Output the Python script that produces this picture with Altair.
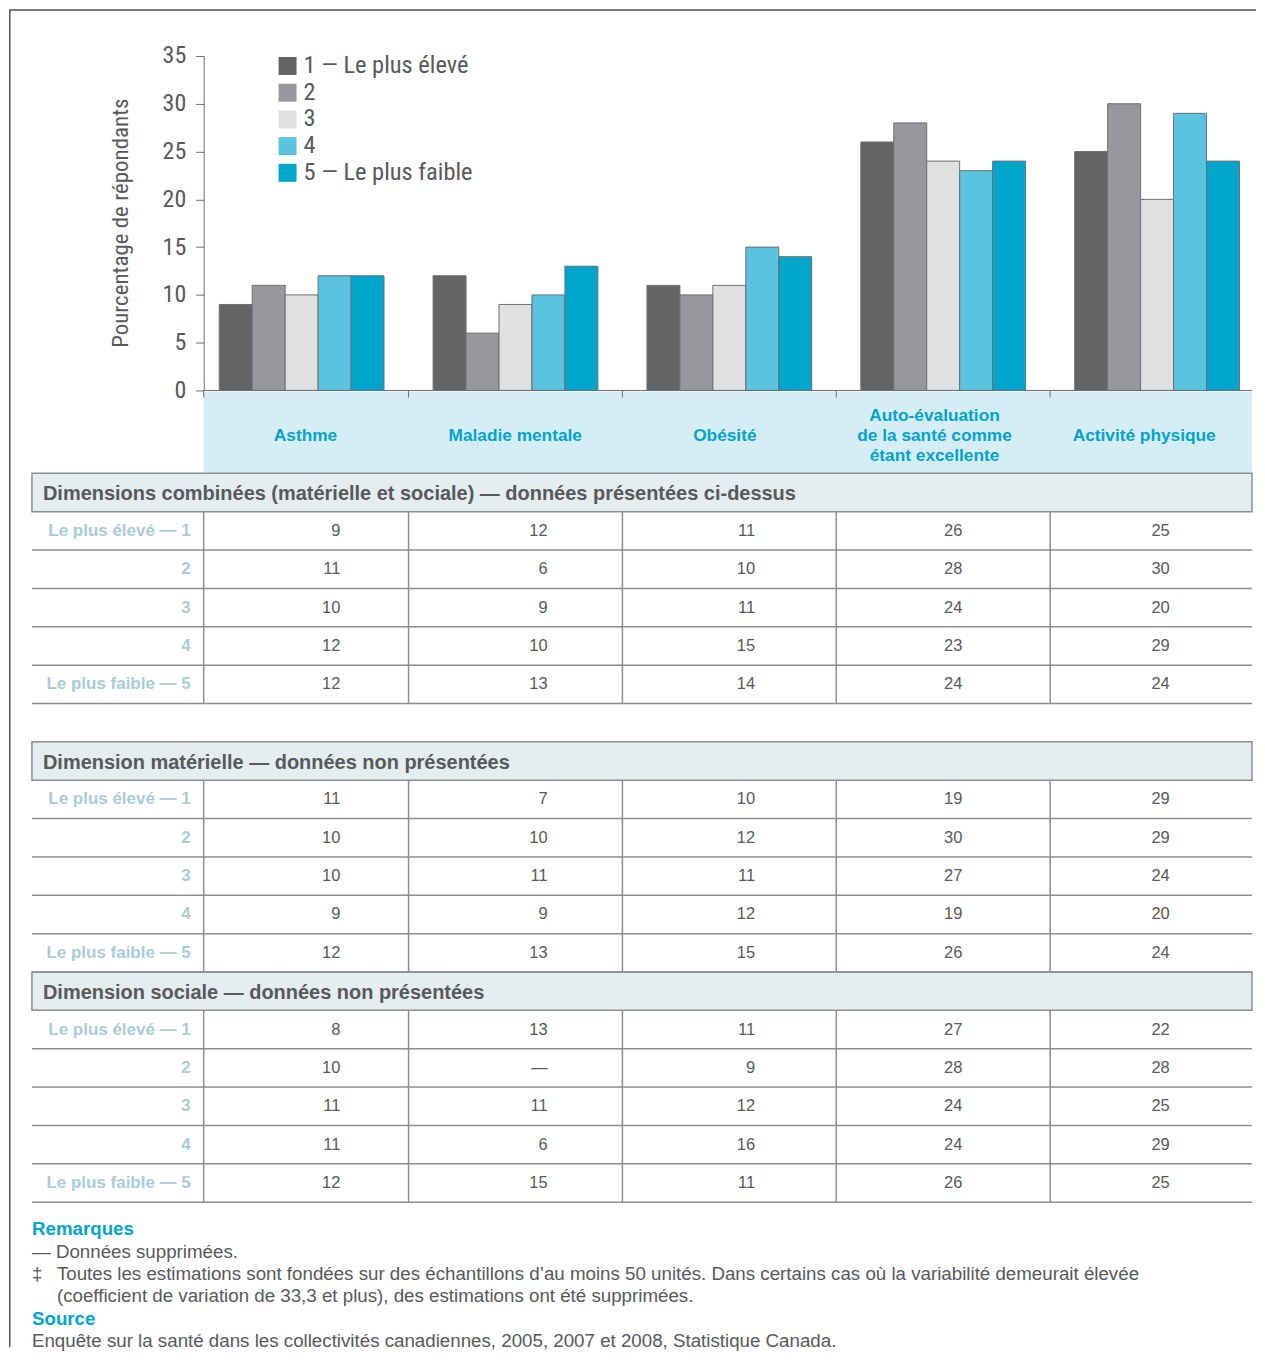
import altair as alt
import pandas as pd

# ---------------- data ----------------
CATEGORIES = ["Asthme", "Maladie mentale", "Obésité",
              "Auto-évaluation de la santé comme étant excellente", "Activité physique"]
CAT_LABELS = ["Asthme", "Maladie mentale", "Obésité",
              "Auto-évaluation\nde la santé comme\nétant excellente", "Activité physique"]
SERIES = ["1", "2", "3", "4", "5"]
LEGEND_LABELS = ["1 — Le plus élevé", "2", "3", "4", "5 — Le plus faible"]
ROW_LABELS = ["Le plus élevé — 1", "2", "3", "4", "Le plus faible — 5"]
COLORS = ["#636466", "#97989c", "#dfe0e2", "#5bc2df", "#00a5cc"]
Y_TICKS = [0, 5, 10, 15, 20, 25, 30, 35]

# rows = quintile 1..5, columns = CATEGORIES
COMBINED = [[9, 12, 11, 26, 25],
            [11, 6, 10, 28, 30],
            [10, 9, 11, 24, 20],
            [12, 10, 15, 23, 29],
            [12, 13, 14, 24, 24]]
MATERIAL = [[11, 7, 10, 19, 29],
            [10, 10, 12, 30, 29],
            [10, 11, 11, 27, 24],
            [9, 9, 12, 19, 20],
            [12, 13, 15, 26, 24]]
SOCIAL = [[8, 13, 11, 27, 22],
          [10, None, 9, 28, 28],
          [11, 11, 12, 24, 25],
          [11, 6, 16, 24, 29],
          [12, 15, 11, 26, 25]]
SECTION_TITLES = ["Dimensions combinées (matérielle et sociale) — données présentées ci-dessus",
                  "Dimension matérielle — données non présentées",
                  "Dimension sociale — données non présentées"]
SECTION_TABLES = [COMBINED, MATERIAL, SOCIAL]
SECTION_HEADER_ROWS = [0, 7, 13]   # grid row of each section header

NOTE_LINES = ["— Données supprimées.",
              "Toutes les estimations sont fondées sur des échantillons d’au moins 50 unités. Dans certains cas où la variabilité demeurait élevée",
              "(coefficient de variation de 33,3 et plus), des estimations ont été supprimées."]
SOURCE_LINE = "Enquête sur la santé dans les collectivités canadiennes, 2005, 2007 et 2008, Statistique Canada."

# ---------------- tables for the library ----------------
bars = pd.DataFrame([{"cat": c, "series": s, "value": COMBINED[i][j]}
                     for i, s in enumerate(SERIES) for j, c in enumerate(CATEGORIES)])
cells, rlabels, hlines, vsect, headers = [], [], [], [], []
for k, (title, tab, h) in enumerate(zip(SECTION_TITLES, SECTION_TABLES, SECTION_HEADER_ROWS)):
    headers.append({"r0": h, "r1": h + 1, "rm": h + 0.5, "title": title})
    vsect.append({"start": h + 1, "end": h + 6})
    for i in range(5):
        r = h + 1 + i
        rlabels.append({"rm": r + 0.5, "label": ROW_LABELS[i]})
        hlines.append({"r": r + 1})
        for j, c in enumerate(CATEGORIES):
            v = tab[i][j]
            cells.append({"rm": r + 0.5, "cat": c, "txt": "—" if v is None else str(v)})
cells = pd.DataFrame(cells)
rlabels = pd.DataFrame(rlabels)
hlines = pd.DataFrame(hlines)
headers = pd.DataFrame(headers)
vsect_df = pd.DataFrame(vsect)
vcols = pd.DataFrame([{"start": s["start"], "end": s["end"], "cat": c}
                      for s in vsect for c in CATEGORIES[1:]])
catlab = pd.DataFrame({"cat": CATEGORIES, "label": CAT_LABELS,
                       "nlines": [lab.count("\n") + 1 for lab in CAT_LABELS]})
ticks = pd.DataFrame({"cat": CATEGORIES[1:]})
legend = pd.DataFrame({"series": SERIES, "label": LEGEND_LABELS})
one = pd.DataFrame({"k": [0]})

# ---------------- layout / style ----------------
W, H = 1249, 1340
NARROW = "Liberation Sans Narrow, Arial Narrow, Roboto Condensed, DejaVu Sans Condensed, sans-serif"
SANS = "Liberation Sans, Arial, Helvetica, sans-serif"
TXT = "#58595b"
LINE = "#8c8e90"
BLUE = "#00a3cc"

BARX = alt.Scale(domain=CATEGORIES, range=[186, 1257], paddingInner=0, paddingOuter=0)
TABX = alt.Scale(domain=CATEGORIES, range=[195, 1245], paddingInner=0, paddingOuter=0)
VALX = alt.Scale(domain=CATEGORIES, range=[195, 1233.5], paddingInner=0, paddingOuter=0)
BARY = alt.Scale(domain=[0, 35], range=[382, 47])
ROWY = alt.Scale(domain=[0, 19], range=[465, 1195])
LINESY = alt.Scale(domain=[1, 3], range=[428, 408])
COL = alt.Scale(domain=SERIES, range=COLORS)

frame_top = alt.Chart(one).mark_rule(color="#555555", strokeWidth=1.5).encode(
    x=alt.value(0), x2=alt.value(W), y=alt.value(1))
frame_left = alt.Chart(one).mark_rule(color="#555555", strokeWidth=1.5).encode(
    x=alt.value(0.75), y=alt.value(1), y2=alt.value(H))

band_box = alt.Chart(one).mark_rect(color="#d5eef6").encode(
    x=alt.value(195), x2=alt.value(1245), y=alt.value(383), y2=alt.value(465))

bar_layer = alt.Chart(bars).mark_bar(stroke="#6d6e71", strokeWidth=1).encode(
    x=alt.X("cat:N", scale=BARX, axis=None, sort=CATEGORIES),
    xOffset=alt.XOffset("series:N", scale=alt.Scale(domain=SERIES, paddingOuter=0.745, paddingInner=0)),
    y=alt.Y("value:Q", scale=BARY,
            axis=alt.Axis(values=Y_TICKS, offset=-195, grid=False, tickSize=8, labelPadding=10,
                          domainColor="#6d6e71", tickColor="#6d6e71", labelColor=TXT,
                          labelFont=NARROW, labelFontSize=24,
                          title="Pourcentage de répondants", titleFont=NARROW, titleFontSize=23,
                          titleFontWeight="normal", titleColor=TXT, titleAngle=270,
                          titleX=-83, titleY=214, titleAlign="center", titleBaseline="middle")),
    color=alt.Color("series:N", scale=COL, legend=None))

x_base = alt.Chart(one).mark_rule(color="#6d6e71", strokeWidth=1).encode(
    x=alt.value(195), x2=alt.value(1245), y=alt.value(382))
x_tick0 = alt.Chart(one).mark_rule(color="#6d6e71", strokeWidth=1).encode(
    x=alt.value(195), y=alt.value(382), y2=alt.value(389))
x_ticks = alt.Chart(ticks).mark_rule(color="#6d6e71", strokeWidth=1).encode(
    x=alt.X("cat:N", scale=BARX, axis=None, bandPosition=0),
    y=alt.value(382), y2=alt.value(389))
cat_text = alt.Chart(catlab).mark_text(font=SANS, fontSize=17.3, fontWeight="bold", color=BLUE,
                                       lineBreak="\n", lineHeight=20, baseline="middle", dx=-3).encode(
    x=alt.X("cat:N", scale=TABX, axis=None),
    y=alt.Y("nlines:Q", scale=LINESY, axis=None), text="label:N")

head_rect = alt.Chart(headers).mark_rect(fill="#e4edf0", stroke=LINE, strokeWidth=1.5).encode(
    x=alt.value(23), x2=alt.value(1245),
    y=alt.Y("r0:Q", scale=ROWY, axis=None), y2="r1:Q")
head_text = alt.Chart(headers).mark_text(font=SANS, fontSize=20, fontWeight="bold", color=TXT,
                                         align="left", baseline="middle", dy=1.5).encode(
    x=alt.value(34), y=alt.Y("rm:Q", scale=ROWY, axis=None), text="title:N")
h_rules = alt.Chart(hlines).mark_rule(color=LINE, strokeWidth=1.5).encode(
    x=alt.value(23), x2=alt.value(1245), y=alt.Y("r:Q", scale=ROWY, axis=None))
v_first = alt.Chart(vsect_df).mark_rule(color=LINE, strokeWidth=1.5).encode(
    x=alt.value(195), y=alt.Y("start:Q", scale=ROWY, axis=None), y2="end:Q")
v_cols = alt.Chart(vcols).mark_rule(color=LINE, strokeWidth=1.5).encode(
    x=alt.X("cat:N", scale=BARX, axis=None, bandPosition=0),
    y=alt.Y("start:Q", scale=ROWY, axis=None), y2="end:Q")
row_text = alt.Chart(rlabels).mark_text(font=SANS, fontSize=17, fontWeight="bold", color="#a9ccd6",
                                        align="right", baseline="middle").encode(
    x=alt.value(182), y=alt.Y("rm:Q", scale=ROWY, axis=None), text="label:N")
val_text = alt.Chart(cells).mark_text(font=SANS, fontSize=16.5, color=TXT, align="right",
                                      baseline="middle", dx=33).encode(
    x=alt.X("cat:N", scale=VALX, axis=None), y=alt.Y("rm:Q", scale=ROWY, axis=None), text="txt:N")

LEGY = alt.Scale(type="point", domain=SERIES, range=[57, 164], padding=0)
leg_sq = alt.Chart(legend).mark_square(size=324, opacity=1).encode(
    x=alt.value(279), y=alt.Y("series:N", scale=LEGY, axis=None),
    color=alt.Color("series:N", scale=COL, legend=None))
leg_txt = alt.Chart(legend).mark_text(font=NARROW, fontSize=24.5, color=TXT, align="left",
                                      baseline="middle").encode(
    x=alt.value(295), y=alt.Y("series:N", scale=LEGY, axis=None), text="label:N")

def note(txt, x, y, bold=False, color=TXT):
    return alt.Chart(one).mark_text(font=SANS, fontSize=18.75, fontWeight="bold" if bold else "normal",
                                    color=color, align="left", baseline="middle", text=txt).encode(
        x=alt.value(x), y=alt.value(y))

notes = [note("Remarques", 23, 1222, True, BLUE),
         note(NOTE_LINES[0], 23, 1245),
         note("‡", 23, 1267),
         note(NOTE_LINES[1], 48, 1267),
         note(NOTE_LINES[2], 48, 1289),
         note("Source", 23, 1312, True, BLUE),
         note(SOURCE_LINE, 23, 1334)]

chart = alt.layer(
    frame_top, frame_left, band_box, bar_layer, x_base, x_tick0, x_ticks, cat_text,
    head_rect, h_rules, v_first, v_cols, head_text, row_text, val_text,
    leg_sq, leg_txt, *notes
).resolve_scale(x="independent", y="independent", color="independent").properties(
    width=W, height=H, padding=0, background="white"
).configure_view(stroke=None)

chart.save("out.html", embed_options={"renderer": "svg", "actions": False})
